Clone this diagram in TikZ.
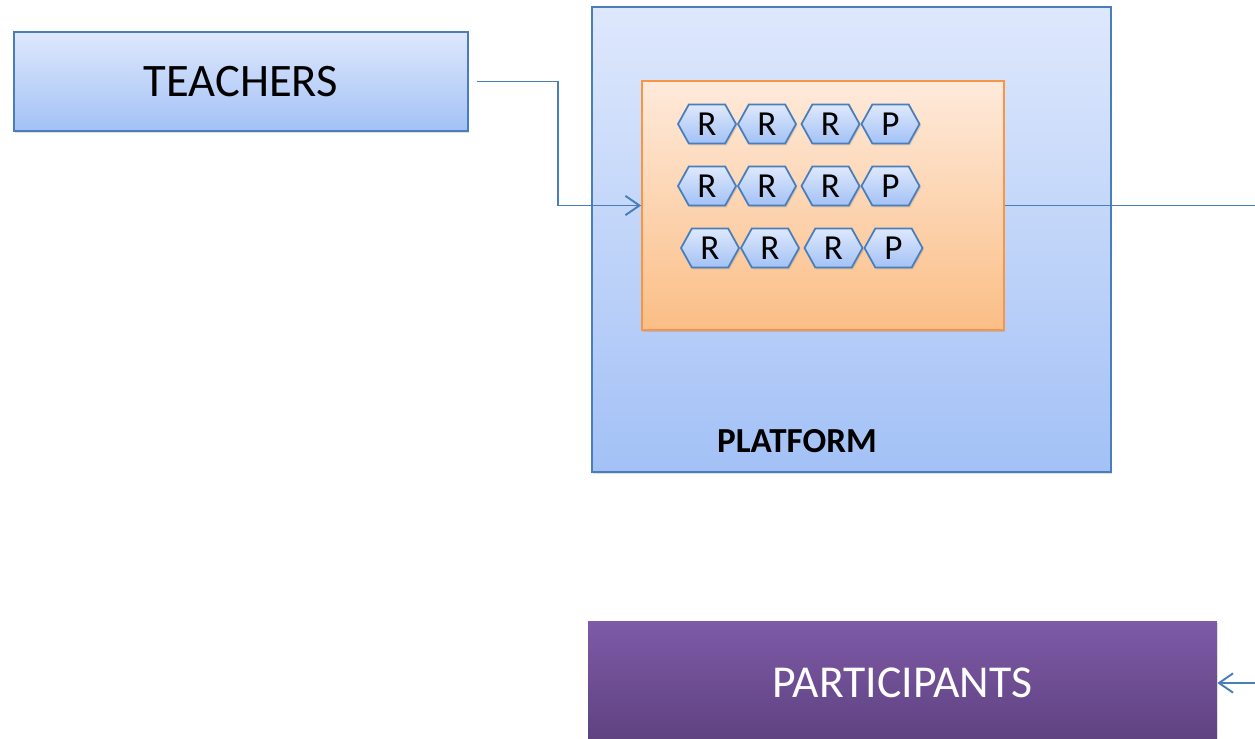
\documentclass[tikz,border=0pt]{standalone}
\usepackage{fontspec}
\setmainfont{Carlito}
\usetikzlibrary{arrows.meta,shapes.symbols,chains,positioning,shadows}
\definecolor{lineblue}{HTML}{4A7EBB}
\definecolor{boxtop}{HTML}{DEE8FC}
\definecolor{boxbot}{HTML}{A3C1F6}
\definecolor{orgtop}{HTML}{FEEADB}
\definecolor{orgbot}{HTML}{FBBE86}
\definecolor{orgline}{HTML}{F79646}
\definecolor{purtop}{HTML}{7E5AA7}
\definecolor{purbot}{HTML}{5E417F}
\tikzset{>={Straight Barb[length=8pt,width=11pt]}}
\tikzstyle{soft}=[drop shadow={opacity=0.25,shadow xshift=0.8pt,shadow yshift=-1pt}]
\tikzstyle{bluebox}=[
	 rectangle, draw=lineblue, line width=0.9pt,
	 top color=boxtop, bottom color=boxbot, soft
    ]
\tikzstyle{hexa}=[
	 signal, signal to=west and east, signal pointer angle=122,
	 draw=lineblue, line width=1pt, top color=boxtop, bottom color=boxbot,
	 minimum width=1.16cm, minimum height=0.78cm, inner sep=0pt,
	 font=\fontsize{20}{20}\selectfont, soft
    ]
\tikzstyle{conn}=[draw=lineblue, line width=1.1pt]

\begin{document}
\begin{tikzpicture}[x=0.02cm,y=-0.02cm,node distance=0pt]

\clip (0,0) rectangle (1255,738);

\node[bluebox,minimum width=9.08cm,minimum height=1.98cm,font=\fontsize{26.5}{30}\selectfont] (T) at (241,81.5) {TEACHERS};
\node[bluebox,minimum width=10.38cm,minimum height=9.3cm] (P) at (851.5,239.5) {};
\node[font=\bfseries\fontsize{20}{24}\selectfont] (PL) at (797,441) {PLATFORM};
\node[rectangle,draw=orgline,line width=1pt,top color=orgtop,bottom color=orgbot,soft,minimum width=7.24cm,minimum height=4.98cm] (L) at (823,205.5) {};
\node[rectangle,top color=purtop,bottom color=purbot,soft,text=white,minimum width=12.58cm,minimum height=2.48cm,font=\fontsize{26}{30}\selectfont] (S) at (902.5,683) {PARTICIPANTS};

\begin{scope}[start chain=ra going right]
\node[hexa,on chain] (A1) at (707,124) {R};
\node[hexa,on chain] (A2) {R};
\node[hexa,on chain,xshift=2pt] (A3) {R};
\node[hexa,on chain] (A4) {P};
\end{scope}
\begin{scope}[start chain=rb going right]
\node[hexa,on chain] (B1) at (707,186) {R};
\node[hexa,on chain] (B2) {R};
\node[hexa,on chain,xshift=2pt] (B3) {R};
\node[hexa,on chain] (B4) {P};
\end{scope}
\begin{scope}[start chain=rc going right]
\node[hexa,on chain] (C1) at (710,248) {R};
\node[hexa,on chain] (C2) {R};
\node[hexa,on chain,xshift=2pt] (C3) {R};
\node[hexa,on chain] (C4) {P};
\end{scope}

\coordinate (k1) at (558,205.5);
\coordinate (k2) at (1290,683);

\draw[conn,->] ([xshift=4.5pt]T.east) -| (k1) -- (L.west);
\draw[conn,->] (L.east) -| (k2) -- (S.east);

\end{tikzpicture}
\end{document}
